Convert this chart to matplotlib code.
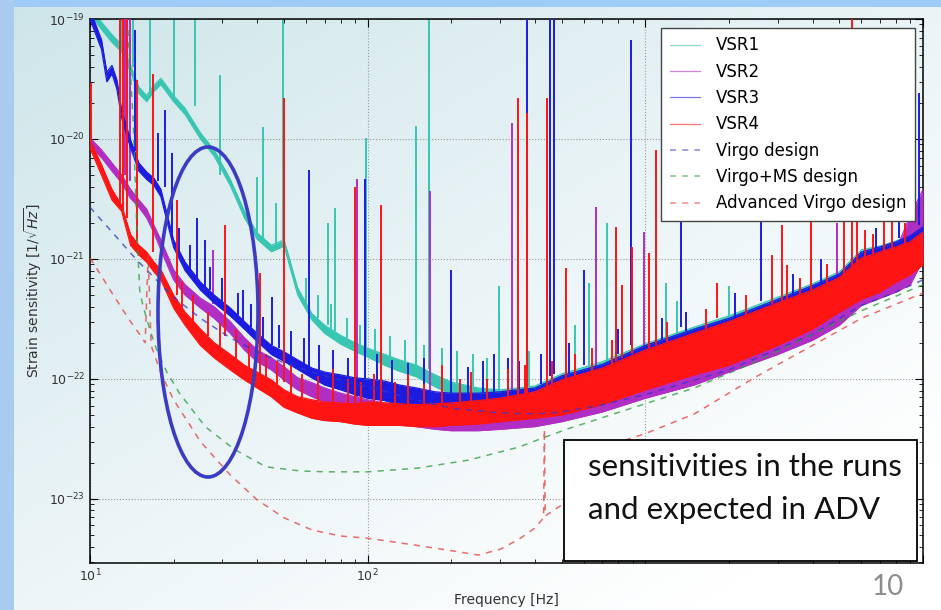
import numpy as np
import matplotlib
matplotlib.use('Agg')
import matplotlib.pyplot as plt
from matplotlib.patches import Ellipse, Rectangle

# frequency grid of the run curves [Hz]
f_run = [10, 11, 12, 13, 14, 15, 16, 17, 18, 20, 22, 25, 28, 32, 36, 40, 45, 50, 56, 63,
         70, 80, 90, 100, 115, 130, 150, 175, 200, 250, 300, 400, 500, 700, 1000, 1500,
         2000, 3000, 4000, 5000, 6000, 7000, 8000, 9000, 10000]
f_vsr3 = [10, 10.5, 11, 11.5, 12, 12.5, 13, 14, 15, 16, 17, 18, 19, 20, 22, 25, 28, 32, 36,
          40, 45, 50, 56, 63, 70, 80, 90, 100, 115, 130, 150, 175, 200, 250, 300, 400, 500,
          700, 1000, 1500, 2000, 3000, 4000, 5000, 6000, 7000, 8000, 9000, 10000]

# noise floor band of each run: upper / lower edge [1/sqrt(Hz)]
vsr1_hi = [1.3e-19, 9.4e-20, 7.4e-20, 6.1e-20, 4.1e-20, 2.7e-20, 2.3e-20, 2.8e-20, 3.2e-20, 2.3e-20,
           1.8e-20, 1.12e-20, 8.1e-21, 4.6e-21, 2.5e-21, 1.65e-21, 1.3e-21, 1.44e-21, 5.7e-22, 3.5e-22,
           2.8e-22, 2.3e-22, 2.0e-22, 1.8e-22, 1.6e-22, 1.44e-22, 1.3e-22, 1.08e-22, 9.4e-23, 8.4e-23,
           8.1e-23, 8.7e-23, 1.1e-22, 1.39e-22, 1.96e-22, 2.7e-22, 3.35e-22, 4.8e-22, 6.2e-22, 7.8e-22,
           1.19e-21, 1.28e-21, 1.41e-21, 1.6e-21, 1.96e-21]
vsr1_lo = [1.1e-19, 8.2e-20, 6.4e-20, 5.3e-20, 3.6e-20, 2.4e-20, 2.05e-20, 2.5e-20, 2.85e-20, 2.05e-20,
           1.6e-20, 1.0e-20, 7.2e-21, 4.1e-21, 2.2e-21, 1.46e-21, 1.15e-21, 1.28e-21, 5.0e-22, 3.1e-22,
           2.4e-22, 1.95e-22, 1.7e-22, 1.52e-22, 1.3e-22, 1.16e-22, 1.04e-22, 8.6e-23, 7.4e-23, 6.5e-23,
           6.2e-23, 6.6e-23, 8.25e-23, 1.02e-22, 1.47e-22, 2.0e-22, 2.5e-22, 3.6e-22, 4.6e-22, 5.8e-22,
           8.9e-22, 9.6e-22, 1.06e-21, 1.19e-21, 1.47e-21]

vsr2_hi = [1.02e-20, 8.1e-21, 6.3e-21, 5.0e-21, 3.8e-21, 3.1e-21, 2.6e-21, 1.9e-21, 1.44e-21, 8.1e-22,
           6.1e-22, 4.7e-22, 4.0e-22, 3.0e-22, 2.2e-22, 1.74e-22, 1.5e-22, 1.26e-22, 1.02e-22, 9.3e-23,
           8.4e-23, 7.6e-23, 7.1e-23, 6.7e-23, 6.3e-23, 6.1e-23, 5.7e-23, 5.5e-23, 5.3e-23, 5.2e-23,
           5.3e-23, 6.1e-23, 8.9e-23, 1.14e-22, 1.6e-22, 2.2e-22, 2.7e-22, 3.9e-22, 5.0e-22, 6.3e-22,
           8.1e-22, 9.4e-22, 1.19e-21, 2.3e-21, 3.8e-21]
vsr2_lo = [8.7e-21, 7.0e-21, 5.4e-21, 4.3e-21, 3.2e-21, 2.7e-21, 2.2e-21, 1.65e-21, 1.19e-21, 6.7e-22,
           5.0e-22, 3.9e-22, 3.2e-22, 2.4e-22, 1.74e-22, 1.39e-22, 1.19e-22, 9.8e-23, 8.1e-23, 7.1e-23,
           6.4e-23, 5.7e-23, 5.3e-23, 5.0e-23, 4.7e-23, 4.3e-23, 4.0e-23, 3.8e-23, 3.7e-23, 3.7e-23,
           3.8e-23, 4.0e-23, 4.4e-23, 5.3e-23, 6.9e-23, 8.9e-23, 1.14e-22, 1.6e-22, 2.1e-22, 2.8e-22,
           4.1e-22, 4.7e-22, 5.3e-22, 6.1e-22, 9.8e-22]

vsr3_hi = [1.2e-19, 8.9e-20, 6.7e-20, 3.6e-20, 4.1e-20, 3.1e-20, 1.74e-20, 9.8e-21, 6.3e-21, 5.3e-21,
           4.7e-21, 3.8e-21, 2.3e-21, 1.44e-21, 9.4e-22, 6.4e-22, 5.0e-22, 3.9e-22, 3.0e-22, 2.4e-22,
           1.9e-22, 1.68e-22, 1.44e-22, 1.23e-22, 1.14e-22, 1.08e-22, 1.02e-22, 1.0e-22, 9.6e-23, 8.9e-23,
           8.4e-23, 7.8e-23, 7.6e-23, 7.6e-23, 7.8e-23, 8.4e-23, 1.06e-22, 1.32e-22, 1.9e-22, 2.6e-22,
           3.2e-22, 4.6e-22, 6.0e-22, 7.5e-22, 1.14e-21, 1.26e-21, 1.39e-21, 1.56e-21, 1.85e-21]
vsr3_lo = [1.0e-19, 7.4e-20, 5.6e-20, 3.0e-20, 3.5e-20, 2.6e-20, 1.5e-20, 8.4e-21, 5.4e-21, 4.6e-21,
           4.1e-21, 3.3e-21, 2.0e-21, 1.25e-21, 8.0e-22, 5.5e-22, 4.3e-22, 3.35e-22, 2.6e-22, 2.05e-22,
           1.6e-22, 1.4e-22, 1.2e-22, 1.02e-22, 8.9e-23, 8.1e-23, 7.4e-23, 6.9e-23, 6.6e-23, 6.1e-23,
           5.7e-23, 5.3e-23, 5.2e-23, 5.2e-23, 5.3e-23, 5.7e-23, 7.4e-23, 9.4e-23, 1.3e-22, 1.8e-22,
           2.3e-22, 3.2e-22, 4.1e-22, 5.3e-22, 7.4e-22, 8.4e-22, 9.4e-22, 1.06e-21, 1.3e-21]

vsr4_hi = [9.8e-21, 6.1e-21, 3.8e-21, 2.8e-21, 1.6e-21, 1.3e-21, 1.14e-21, 9.4e-22, 8.1e-22, 5.0e-22,
           3.6e-22, 2.6e-22, 2.0e-22, 1.6e-22, 1.3e-22, 1.14e-22, 9.8e-23, 8.1e-23, 7.1e-23, 6.7e-23,
           6.4e-23, 6.3e-23, 6.2e-23, 6.4e-23, 6.3e-23, 6.2e-23, 6.1e-23, 6.2e-23, 6.3e-23, 6.6e-23,
           6.9e-23, 7.8e-23, 9.8e-23, 1.23e-22, 1.74e-22, 2.4e-22, 3.0e-22, 4.3e-22, 5.5e-22, 7.0e-22,
           1.02e-21, 1.14e-21, 1.26e-21, 1.39e-21, 1.68e-21]
vsr4_lo = [8.4e-21, 5.0e-21, 3.1e-21, 2.5e-21, 1.3e-21, 1.08e-21, 9.4e-22, 7.8e-22, 6.7e-22, 3.9e-22,
           2.8e-22, 1.9e-22, 1.5e-22, 1.19e-22, 9.8e-23, 8.4e-23, 7.1e-23, 5.8e-23, 5.2e-23, 4.7e-23,
           4.5e-23, 4.4e-23, 4.2e-23, 4.1e-23, 4.1e-23, 4.1e-23, 4.0e-23, 4.0e-23, 4.1e-23, 4.2e-23,
           4.4e-23, 4.7e-23, 5.0e-23, 6.1e-23, 8.1e-23, 1.08e-22, 1.3e-22, 1.9e-22, 2.6e-22, 3.6e-22,
           4.6e-22, 5.3e-22, 6.4e-22, 7.4e-22, 8.9e-22]

# spectral lines: frequency, foot, tip
spk1_f = [12.9, 14.3, 16.4, 20, 23.9, 29.3, 39.9, 41.9, 46.7, 49.4, 71.8, 76, 99, 149, 165.8,
          298, 629, 730, 1190,
          60, 66, 74, 84, 94, 106, 120, 136, 160, 185, 210, 240, 270, 330, 380, 560, 1300, 2000]
spk1_lo = [6e-20, 4e-20, 2.3e-20, 2.3e-20, 1.9e-20, 5e-21, 1.6e-21, 1.5e-21, 1.3e-21, 1.4e-21,
           2.8e-22, 2.5e-22, 1.6e-22, 1.3e-22, 1.2e-22, 8e-23, 1.2e-22, 1.3e-22, 2.2e-22,
           4.2e-22, 3.2e-22, 2.6e-22, 2.2e-22, 1.9e-22, 1.7e-22, 1.55e-22, 1.4e-22, 1.2e-22, 1.0e-22,
           9.2e-23, 8.6e-23, 8.3e-23, 8.2e-23, 8.5e-23, 1.2e-22, 2.3e-22, 3.3e-22]
spk1_hi = [1.2e-19, 1.2e-19, 1.2e-19, 1.2e-19, 1.2e-19, 3.4e-20, 4.8e-21, 1.26e-20, 2.9e-21, 1.2e-19,
           2.0e-21, 2.65e-21, 1.02e-20, 1.28e-20, 1.2e-19, 5.9e-22, 6.3e-22, 2.0e-21, 6.3e-22,
           7e-22, 5e-22, 4.2e-22, 3.2e-22, 2.8e-22, 2.6e-22, 2.3e-22, 2.1e-22, 1.9e-22, 1.8e-22,
           1.7e-22, 1.6e-22, 1.5e-22, 1.4e-22, 1.7e-22, 2.8e-22, 4.5e-22, 6e-22]

spk2_f = [13.4, 13.9, 27.7, 91.3, 167, 330, 666, 992, 4905]
spk2_lo = [5e-21, 4.5e-21, 4.2e-22, 7e-23, 5.7e-23, 5.3e-23, 1.2e-22, 1.6e-22, 6.3e-22]
spk2_hi = [1.2e-19, 1.2e-19, 1.19e-21, 4.6e-21, 3.7e-21, 1.36e-20, 2.7e-21, 1.68e-21, 2.0e-21]

spk3_f = [14.5, 17.6, 18.6, 19.8, 24.3, 25.9, 35.5, 45.2, 61.3, 98, 199, 376, 452, 470, 603,
          890, 1347, 2614, 8198, 9674,
          21, 23, 27, 30, 34, 38, 42, 48, 53, 59, 67, 75, 85, 108, 122, 140, 160, 185, 230, 260,
          285, 320, 350, 420, 530, 800, 1150, 1400, 2100, 3400, 4300, 6800]
spk3_lo = [8e-21, 4.5e-21, 4e-21, 1.5e-21, 6.4e-22, 5.5e-22, 2.8e-22, 1.9e-22, 1.25e-22, 1e-22,
           7.6e-23, 8e-23, 1.05e-22, 1.1e-22, 1.3e-22, 1.9e-22, 2.7e-22, 4.5e-22, 1.5e-21, 1.9e-21,
           1.1e-21, 8e-22, 5.5e-22, 4.5e-22, 3.4e-22, 2.7e-22, 2.2e-22, 1.8e-22, 1.55e-22, 1.3e-22,
           1.18e-22, 1.1e-22, 1.05e-22, 9.8e-23, 9.2e-23, 8.6e-23, 8.2e-23, 7.7e-23, 7.6e-23, 7.6e-23,
           7.7e-23, 8e-23, 8.2e-23, 9e-23, 1.1e-22, 1.6e-22, 2.1e-22, 2.5e-22, 3.3e-22, 5e-22,
           6.3e-22, 1.2e-21]
spk3_hi = [8.1e-20, 1.12e-20, 1.74e-20, 7.6e-21, 2.2e-21, 1.44e-21, 5.5e-22, 4.8e-22, 5.5e-21, 4.6e-21,
           8.1e-22, 1.2e-19, 1.2e-19, 1.2e-19, 8.1e-22, 6.7e-20, 8.1e-21, 8.1e-21, 4.6e-21, 2.4e-20,
           1.8e-21, 1.3e-21, 8.5e-22, 7e-22, 5.2e-22, 4.2e-22, 3.3e-22, 2.8e-22, 2.5e-22, 2.2e-22,
           1.9e-22, 1.75e-22, 1.5e-22, 1.6e-22, 1.45e-22, 1.35e-22, 1.5e-22, 1.2e-22, 1.25e-22, 1.4e-22,
           1.6e-22, 1.5e-22, 1.4e-22, 1.6e-22, 2.0e-22, 2.6e-22, 3.2e-22, 3.6e-22, 5.2e-22, 7.5e-22,
           1.0e-21, 1.8e-21]

spk4_f = [10.1, 12.8, 13.2, 13.6, 14.8, 16.9, 20.6, 30.6, 40.9, 50, 89.8, 112, 349, 376, 444,
          520, 787, 827, 898, 1034, 1095, 1816, 2863, 3110, 3242, 3955, 5196, 5553, 5800, 6200,
          7240, 7736,
          21.5, 23.5, 26.5, 29.5, 33.5, 37.5, 43, 47, 53, 58, 66, 75, 85, 95, 105, 125, 140, 160,
          185, 215, 235, 270, 320, 370, 460, 560, 640, 760, 1200, 1650, 2300, 3600, 4500, 6600, 8600]
spk4_lo = [9.5e-21, 2.8e-21, 2.5e-21, 2.2e-21, 1.4e-21, 1.15e-21, 5e-22, 2.3e-22, 1.1e-22, 9.5e-23,
           6.2e-23, 6.3e-23, 6.7e-23, 6.8e-23, 7.5e-23, 1e-22, 1.4e-22, 1.5e-22, 1.6e-22, 1.8e-22,
           1.9e-22, 3.2e-22, 4.2e-22, 4.4e-22, 4.5e-22, 5.5e-22, 7e-22, 8e-22, 8.5e-22, 9e-22,
           1.1e-21, 1.2e-21,
           3.8e-22, 3.0e-22, 2.3e-22, 1.8e-22, 1.45e-22, 1.2e-22, 1.0e-22, 9e-23, 7.6e-23, 7e-23,
           6.5e-23, 6.3e-23, 6.2e-23, 6.3e-23, 6.3e-23, 6.2e-23, 6.2e-23, 6.1e-23, 6.2e-23, 6.3e-23,
           6.4e-23, 6.7e-23, 7e-23, 7.5e-23, 9e-23, 1.05e-22, 1.15e-22, 1.3e-22, 2e-22, 2.6e-22,
           3.4e-22, 5e-22, 6.2e-22, 1.1e-21, 1.3e-21]
spk4_hi = [2.9e-20, 1.2e-19, 1.2e-19, 1.2e-19, 3.1e-20, 3.5e-20, 3.1e-21, 1.9e-21, 7.6e-22, 2.2e-20,
           4.0e-21, 2.8e-21, 2.2e-20, 1.65e-20, 2.2e-20, 8.4e-22, 1.85e-21, 6.1e-22, 1.26e-21, 1.12e-21,
           8.1e-21, 6.3e-22, 1.08e-21, 1.9e-21, 8.9e-22, 2.9e-21, 8.1e-21, 1.2e-19, 2.3e-21, 1.74e-21,
           8.1e-21, 4.6e-21,
           6.5e-22, 5.0e-22, 3.6e-22, 2.9e-22, 2.6e-22, 2.0e-22, 1.6e-22, 1.4e-22, 1.3e-22, 1.1e-22,
           1.05e-22, 1.2e-22, 1.0e-22, 9.5e-23, 1.1e-22, 9.5e-23, 1.1e-22, 9e-23, 1.3e-22, 1.0e-22,
           1.15e-22, 1.0e-22, 1.2e-22, 1.3e-22, 1.4e-22, 1.6e-22, 1.8e-22, 2.1e-22, 3e-22, 3.8e-22,
           5e-22, 7e-22, 9e-22, 1.6e-21, 2.0e-21]

# design curves
f_vd = [10, 11, 12, 13, 14, 15, 16, 18, 20, 25, 32, 40, 50, 63, 80, 100, 150, 200, 300, 400,
        500, 700, 1000, 2000, 4000, 6000, 8000, 10000]
h_vd = [2.7e-21, 2.1e-21, 1.68e-21, 1.36e-21, 1.12e-21, 9.4e-22, 8.1e-22, 6.1e-22, 4.8e-22, 3.2e-22,
        2.2e-22, 1.68e-22, 1.36e-22, 1.14e-22, 9.8e-23, 8.6e-23, 6.7e-23, 5.7e-23, 5.2e-23, 5.1e-23,
        5.3e-23, 6.1e-23, 7.4e-23, 1.19e-22, 2.35e-22, 4.1e-22, 5.3e-22, 6.7e-22]

f_ms = [13.7, 14.3, 14.8, 15.1, 15.5, 16.4, 17.4, 18.9, 21, 26, 33, 43, 57, 70, 100, 150, 230,
        350, 440, 520, 850, 1500, 2500, 4000, 6000, 8000, 10000]
h_ms = [8.1e-20, 1.44e-20, 1.44e-21, 5.5e-22, 4.1e-22, 2.6e-22, 1.74e-22, 1.14e-22, 7.6e-23, 4.0e-23,
        2.6e-23, 1.85e-23, 1.71e-23, 1.68e-23, 1.68e-23, 1.8e-23, 2.1e-23, 2.7e-23, 3.3e-23, 3.8e-23,
        5.5e-23, 8.4e-23, 1.39e-22, 2.35e-22, 3.7e-22, 4.9e-22, 6.1e-22]

f_adv = [10, 11, 12, 13, 14, 15, 15.8, 16.2, 16.6, 18, 20, 25, 32, 40, 50, 63, 80, 100, 150, 200,
         250, 300, 350, 400, 430, 433, 436, 500, 520, 700, 850, 1000, 1500, 2500, 4000, 6000, 8000,
         10000]
h_adv = [1.02e-21, 7.2e-22, 5.2e-22, 3.9e-22, 3.0e-22, 2.4e-22, 2.0e-22, 1.08e-21, 1.9e-22, 1.12e-22,
         6.7e-23, 3.0e-23, 1.58e-23, 9.8e-24, 6.95e-24, 5.5e-24, 4.9e-24, 4.7e-24, 4.1e-24, 3.7e-24,
         3.4e-24, 3.8e-24, 4.6e-24, 5.7e-24, 6.95e-24, 3.8e-23, 7.2e-24, 8.9e-24, 9.8e-24, 1.78e-23,
         3.1e-23, 3.5e-23, 5.1e-23, 1.04e-22, 1.9e-22, 3.2e-22, 4.2e-22, 5.2e-22]

fig = plt.figure(figsize=(9.41, 6.10), dpi=100)

# slide background
H, W = 610, 941
yy, xx = np.mgrid[0:H, 0:W]
t = np.clip(0.55 * xx / W + 0.6 * yy / H, 0, 1) ** 0.9
c0 = np.array([0.80, 0.895, 0.915])
img = c0 + (1 - c0) * t[..., None]
img[:7, :] = [0.62, 0.80, 0.97]
img[:, :14] = [0.66, 0.80, 0.94]
bg = fig.add_axes([0, 0, 1, 1], zorder=-10)
bg.imshow(img, aspect='auto', extent=[0, 1, 0, 1], origin='upper')
bg.axis('off')

ax = fig.add_axes([90 / 941, 47 / 610, 833 / 941, 544 / 610])
ax.set_facecolor('none')
ax.set_xscale('log')
ax.set_yscale('log')

runs = [
    ('VSR1', '#38c6b2', f_run, vsr1_lo, vsr1_hi, spk1_f, spk1_lo, spk1_hi),
    ('VSR2', '#b02ec4', f_run, vsr2_lo, vsr2_hi, spk2_f, spk2_lo, spk2_hi),
    ('VSR3', '#1c1ce0', f_vsr3, vsr3_lo, vsr3_hi, spk3_f, spk3_lo, spk3_hi),
    ('VSR4', '#ff1414', f_run, vsr4_lo, vsr4_hi, spk4_f, spk4_lo, spk4_hi),
]
handles = []
for i, (name, col, f, lo, hi, sf, slo, shi) in enumerate(runs):
    z = 2 + i
    ax.fill_between(f, lo, hi, color=col, lw=0, zorder=z)
    ln, = ax.plot(f, hi, color=col, lw=0.9, zorder=z, label=name)
    ax.plot(f, lo, color=col, lw=0.9, zorder=z)
    ax.vlines(sf, slo, shi, color=col, lw=1.4, zorder=z)
    handles.append(ln)

for f, h, col, name in [(f_vd, h_vd, '#3434cc', 'Virgo design'),
                        (f_ms, h_ms, '#2a9a3a', 'Virgo+MS design'),
                        (f_adv, h_adv, '#e83a3a', 'Advanced Virgo design')]:
    ln, = ax.plot(f, h, color=col, lw=1.1, ls=(0, (4, 4)), alpha=0.75, zorder=7, label=name)
    handles.append(ln)

ax.set_xlim(10, 1e4)
ax.set_ylim(2.92e-24, 1e-19)
ax.set_xticks([10, 100, 1000, 10000])
ax.set_xticklabels([r'$10^1$', r'$10^2$', '', ''])
ax.set_yticks([1e-23, 1e-22, 1e-21, 1e-20, 1e-19])
ax.grid(True, which='major', ls=':', color='#9a9a9a', lw=0.8)
ax.set_axisbelow(True)
ax.tick_params(which='both', direction='in', top=True, right=True,
               labelsize=9, labelcolor='#333333')
ax.tick_params(which='major', length=6)
ax.tick_params(which='minor', length=3)
for s in ax.spines.values():
    s.set_linewidth(1.1)
ax.set_xlabel('Frequency [Hz]', fontsize=10, color='#333333', labelpad=6)
ax.set_ylabel(r'Strain sensitivity [$1/\sqrt{Hz}$]', fontsize=10, color='#333333')
ax.yaxis.set_label_coords(-0.055, 0.5)

leg = ax.legend(handles=handles, loc='upper right', bbox_to_anchor=(915 / 941, 1 - 28 / 610),
                bbox_transform=fig.transFigure, borderaxespad=0, fontsize=12,
                handlelength=1.8, handletextpad=1.0, labelspacing=0.5, borderpad=0.5,
                fancybox=False, framealpha=1, edgecolor='#444444')
leg.set_zorder(20)
for h in leg.get_lines():
    h.set_alpha(0.6)

# slide annotations
fig.add_artist(Ellipse((208 / 941, 1 - 312 / 610), 100 / 941, 330 / 610,
                       transform=fig.transFigure, fill=False, edgecolor='#3b3bc4', lw=2.6,
                       zorder=10))
fig.add_artist(Rectangle((564 / 941, 1 - 561 / 610), 353 / 941, 121 / 610,
                         transform=fig.transFigure, facecolor='white', edgecolor='black',
                         lw=1.3, zorder=10))
fig.text(588 / 941, 1 - 467 / 610, 'sensitivities in the runs', fontsize=22.5,
         family=['Lato', 'DejaVu Sans'], color='#111111', va='center', ha='left', zorder=11)
fig.text(588 / 941, 1 - 510 / 610, 'and expected in ADV', fontsize=22.5,
         family=['Lato', 'DejaVu Sans'], color='#111111', va='center', ha='left', zorder=11)
fig.text(888 / 941, 1 - 587 / 610, '10', fontsize=20, family=['Lato', 'DejaVu Sans'],
         color='#8c8c8c', va='center', ha='center', zorder=11)

fig.savefig('out.png', dpi=100)
